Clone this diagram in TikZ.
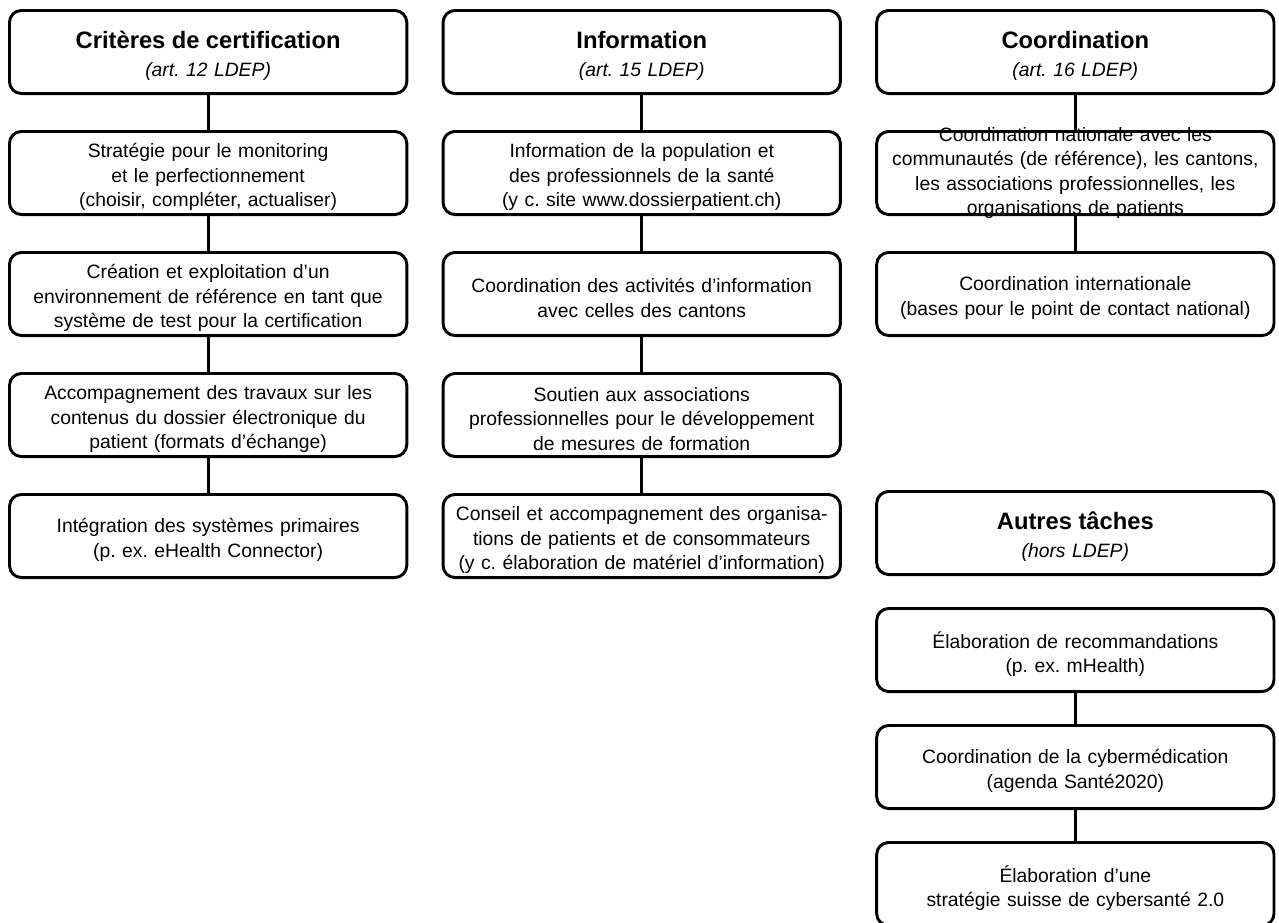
\documentclass[tikz,border=0pt]{standalone}
\usepackage{fontspec}
\setmainfont{Liberation Sans}
\frenchspacing
\usetikzlibrary{positioning}

\begin{document}
\begin{tikzpicture}[
  node distance=26.25pt and 25pt,
  box/.style={rectangle, draw, line width=2.2pt, rounded corners=9pt, text width=296pt, inner xsep=1pt, inner ysep=2pt, minimum height=62.3pt, align=center, font=\fontsize{14.5}{18.4}\selectfont, execute at end node={\endgraf\kern-6pt}},
  head/.style={box},
  link/.style={line width=2.2pt}
]
  \useasboundingbox (0,0) rectangle (959.25pt,-691.5pt);

  \node[head, anchor=north west] (crit) at (6pt,-6.75pt) {{\fontsize{17.8}{20}\selectfont\bfseries Critères de certification}\\[2.5pt]\textit{(art. 12 LDEP)}};
  \node[box, below=of crit] (strat) {Stratégie pour le monitoring\\et le perfectionnement\\(choisir, compléter, actualiser)};
  \node[box, below=of strat] (refenv) {Création et exploitation d’un\\environnement de référence en tant que\\système de test pour la certification};
  \node[box, below=of refenv] (contenus) {Accompagnement des travaux sur les\\contenus du dossier électronique du\\patient (formats d’échange)};
  \node[box, below=of contenus] (integ) {Intégration des systèmes primaires\\(p. ex. eHealth Connector)};

  \node[head, right=of crit] (info) {{\fontsize{17.8}{20}\selectfont\bfseries Information}\\[2.5pt]\textit{(art. 15 LDEP)}};
  \node[box, right=of strat] (pop) {Information de la population et\\des professionnels de la santé\\(y c. site www.dossierpatient.ch)};
  \node[box, right=of refenv] (activ) {Coordination des activités d’information\\avec celles des cantons};
  \node[box, right=of contenus] (soutien) {Soutien aux associations\\professionnelles pour le développement\\de mesures de formation};
  \node[box, right=of integ] (conseil) {Conseil et accompagnement des organisa-\\tions de patients et de consommateurs\\(y c. élaboration de matériel d’information)};

  \node[head, right=of info] (coord) {{\fontsize{17.8}{20}\selectfont\bfseries Coordination}\\[2.5pt]\textit{(art. 16 LDEP)}};
  \node[box, right=of pop, text height=4pt, text depth=52pt] (nat) {Coordination nationale avec les\\communautés (de référence), les cantons,\\les associations professionnelles, les\\organisations de patients};
  \node[box, right=of activ] (intl) {Coordination internationale\\(bases pour le point de contact national)};

  \node[head, right=of conseil, yshift=2.25pt] (autres) {{\fontsize{17.8}{20}\selectfont\bfseries Autres tâches}\\[2.5pt]\textit{(hors LDEP)}};
  \node[box, below=23.25pt of autres] (recom) {Élaboration de recommandations\\(p. ex. mHealth)};
  \node[box, below=23.25pt of recom] (cyber) {Coordination de la cybermédication\\(agenda Santé2020)};
  \node[box, below=23.25pt of cyber] (suisse) {Élaboration d’une\\stratégie suisse de cybersanté 2.0};

  \draw[link] (crit) -- (strat);
  \draw[link] (strat) -- (refenv);
  \draw[link] (refenv) -- (contenus);
  \draw[link] (contenus) -- (integ);
  \draw[link] (info) -- (pop);
  \draw[link] (pop) -- (activ);
  \draw[link] (activ) -- (soutien);
  \draw[link] (soutien) -- (conseil);
  \draw[link] (coord) -- (nat);
  \draw[link] (nat) -- (intl);
  \draw[link] (recom) -- (cyber);
  \draw[link] (cyber) -- (suisse);
\end{tikzpicture}
\end{document}
